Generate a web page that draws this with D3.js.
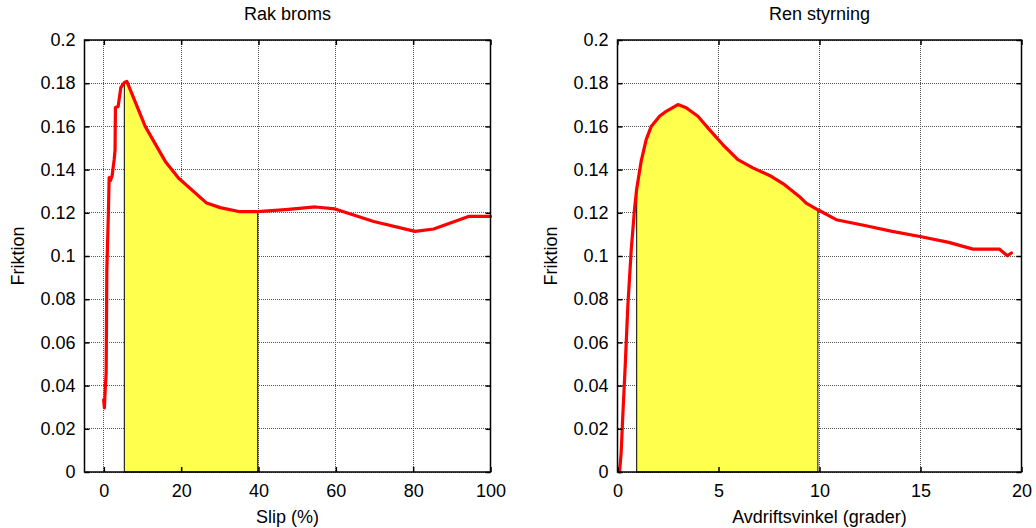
<!DOCTYPE html>
<html>
<head>
<meta charset="utf-8">
<script src="https://cdn.jsdelivr.net/npm/d3@7"></script>
<style>
  body { margin: 0; background: #fff; }
  text { font-family: "Liberation Sans", Arial, sans-serif; fill: #000; }
</style>
</head>
<body>
<div id="viz"></div>
<script>
const width = 1036;
const height = 528;

// friction ticks shared by both panels
const yTicks = [0, 0.02, 0.04, 0.06, 0.08, 0.1, 0.12, 0.14, 0.16, 0.18, 0.2];

// left panel: straight braking
const brakeTitle = 'Rak broms';
const brakeXLabel = 'Slip (%)';
const brakeXTicks = [0, 20, 40, 60, 80, 100];
const brakeSlip = [-0.05, 0.15, 0.35, 0.6, 0.78, 1.2, 1.37, 1.7, 2.15, 2.67, 2.9, 3.0, 3.7, 4.4, 5.3, 5.95,
  10.7, 15.9, 19.3, 26.6, 30.1, 35.2, 39.8, 47, 54.7, 59.8, 69.8, 80.5, 85.3, 94.3, 100];
const brakeFriction = [0.0334, 0.0297, 0.038, 0.0459, 0.0936, 0.1214, 0.1363, 0.1349, 0.1372, 0.1446, 0.149, 0.1687, 0.1692, 0.178, 0.1803, 0.1808,
  0.160, 0.1438, 0.1361, 0.1245, 0.1224, 0.1205, 0.1205, 0.1215, 0.1227, 0.1218, 0.116, 0.1114, 0.1125, 0.1183, 0.1183];
const brakeShade = [5.3, 39.8];

// right panel: pure steering
const steerTitle = 'Ren styrning';
const steerXLabel = 'Avdriftsvinkel (grader)';
const steerXTicks = [0, 5, 10, 15, 20];
const steerAngle = [0.1, 0.18, 0.26, 0.38, 0.51, 0.68, 0.84, 0.95, 1.17, 1.42, 1.67, 2.08, 2.41, 2.99, 3.4, 3.98, 4.55, 5.21, 5.96, 6.7, 7.61,
  8.27, 9.0, 9.34, 9.92, 10.83, 12.3, 13.6, 15.1, 16.4, 17.6, 18.9, 19.3, 19.5];
const steerFriction = [0.0, 0.0087, 0.0256, 0.0488, 0.0766, 0.1029, 0.1214, 0.131, 0.1438, 0.1539, 0.160, 0.1647, 0.167, 0.1701, 0.1686, 0.1647, 0.1585, 0.1516, 0.1446, 0.1408, 0.1369,
  0.133, 0.1276, 0.1245, 0.1214, 0.1168, 0.114, 0.1114, 0.1088, 0.1063, 0.1032, 0.1032, 0.1001, 0.1014];
const steerShade = [0.95, 9.92];

const svg = d3.select('#viz')
  .append('svg')
  .attr('width', width)
  .attr('height', height);

const yScale = d3.scaleLinear().domain([0, 0.2]).range([472, 40]);

const panels = [
  {title: brakeTitle, xLabel: brakeXLabel, ticks: brakeXTicks, xs: brakeSlip, ys: brakeFriction,
    shade: brakeShade, domain: [-5, 100], range: [84.5, 490.5]},
  {title: steerTitle, xLabel: steerXLabel, ticks: steerXTicks, xs: steerAngle, ys: steerFriction,
    shade: steerShade, domain: [0, 20], range: [617.5, 1021.5]}
];

panels.forEach(p => {
  const xScale = d3.scaleLinear().domain(p.domain).range(p.range);
  const g = svg.append('g');
  const [left, right] = p.range;
  const top = yScale(0.2), bottom = yScale(0);
  const pts = p.xs.map((x, i) => [x, p.ys[i]]);
  const snap = v => Math.round(v - 0.5) + 0.5;

  // dotted grid
  const grid = g.append('g')
    .attr('stroke', '#555')
    .attr('stroke-dasharray', '1,1')
    .attr('shape-rendering', 'crispEdges');
  grid.selectAll('line.gx')
    .data(p.ticks)
    .join('line')
      .attr('x1', d => snap(xScale(d))).attr('x2', d => snap(xScale(d)))
      .attr('y1', top).attr('y2', bottom);
  grid.selectAll('line.gy')
    .data(yTicks)
    .join('line')
      .attr('x1', left).attr('x2', right)
      .attr('y1', d => snap(yScale(d))).attr('y2', d => snap(yScale(d)));

  // shaded region under the curve
  const inside = pts.filter(d => d[0] >= p.shade[0] && d[0] <= p.shade[1]);
  const shadePts = [[p.shade[0], 0], ...inside, [p.shade[1], 0]];
  g.append('path')
    .attr('d', d3.line().x(d => xScale(d[0])).y(d => yScale(d[1]))(shadePts) + 'Z')
    .attr('fill', '#ffff4d')
    .attr('stroke', '#000')
    .attr('stroke-width', 1);

  // friction curve
  g.append('path')
    .attr('d', d3.line().x(d => xScale(d[0])).y(d => yScale(d[1]))(pts))
    .attr('fill', 'none')
    .attr('stroke', '#ff0000')
    .attr('stroke-width', 3.2)
    .attr('stroke-linejoin', 'round')
    .attr('stroke-linecap', 'round');

  // axes (MATLAB style, ticks inward on all sides)
  const tick = 5;
  g.append('g')
    .attr('transform', `translate(0, ${bottom})`)
    .call(d3.axisBottom(xScale).tickValues(p.ticks).tickSize(-tick).tickPadding(12).tickFormat(d3.format('')))
    .call(a => a.select('.domain').remove());
  g.append('g')
    .attr('transform', `translate(0, ${top})`)
    .call(d3.axisTop(xScale).tickValues(p.ticks).tickSize(-tick).tickFormat(''))
    .call(a => a.select('.domain').remove());
  g.append('g')
    .attr('transform', `translate(${left}, 0)`)
    .call(d3.axisLeft(yScale).tickValues(yTicks).tickSize(-tick).tickPadding(9).tickFormat(d3.format('')))
    .call(a => a.select('.domain').remove());
  g.append('g')
    .attr('transform', `translate(${right}, 0)`)
    .call(d3.axisRight(yScale).tickValues(yTicks).tickSize(-tick).tickFormat(''))
    .call(a => a.select('.domain').remove());
  g.selectAll('.tick text').attr('font-size', 18).attr('font-family', '"Liberation Sans", Arial, sans-serif');
  g.selectAll('.tick line').attr('stroke', '#000').attr('stroke-width', 1.5);

  g.append('rect')
    .attr('x', left).attr('y', top)
    .attr('width', right - left).attr('height', bottom - top)
    .attr('fill', 'none').attr('stroke', '#000').attr('stroke-width', 1.5);

  // labels
  const cx = (left + right) / 2;
  g.append('text').attr('x', cx).attr('y', 20).attr('text-anchor', 'middle')
    .attr('font-size', 18).text(p.title);
  g.append('text').attr('x', cx).attr('y', 523).attr('text-anchor', 'middle')
    .attr('font-size', 18).text(p.xLabel);
  g.append('text')
    .attr('transform', `translate(${left - 61}, ${(top + bottom) / 2}) rotate(-90)`)
    .attr('text-anchor', 'middle')
    .attr('font-size', 18).text('Friktion');
});
</script>
</body>
</html>
